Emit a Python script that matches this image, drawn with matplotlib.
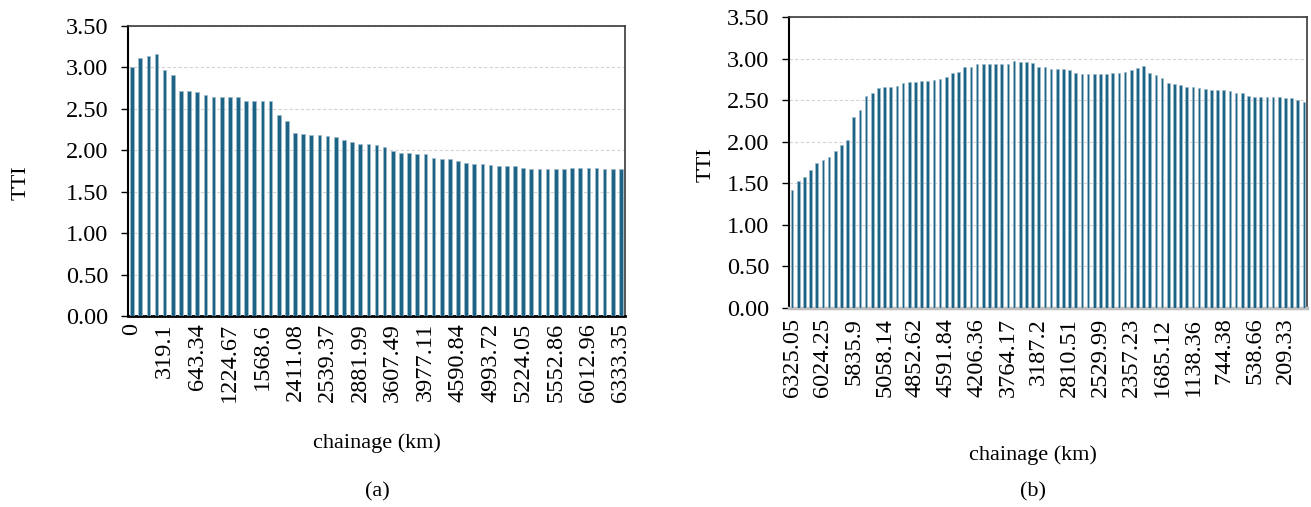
import matplotlib
matplotlib.use("Agg")
import matplotlib.pyplot as plt
import numpy as np

plt.rcParams['font.family'] = ['Liberation Serif', 'DejaVu Serif']

# Panel (a): TTI along chainage, forward direction
tti_a = [3.00, 3.11, 3.14, 3.16, 2.97, 2.91, 2.71, 2.71, 2.70, 2.67,
         2.64, 2.64, 2.64, 2.64, 2.60, 2.60, 2.59, 2.60, 2.43, 2.35,
         2.21, 2.20, 2.18, 2.18, 2.17, 2.16, 2.13, 2.10, 2.08, 2.07,
         2.06, 2.04, 1.99, 1.97, 1.97, 1.96, 1.95, 1.91, 1.90, 1.89,
         1.87, 1.85, 1.84, 1.83, 1.82, 1.81, 1.81, 1.81, 1.79, 1.78,
         1.78, 1.78, 1.78, 1.78, 1.79, 1.79, 1.79, 1.79, 1.78, 1.78,
         1.77]
ticks_a = ["0", "319.1", "643.34", "1224.67", "1568.6", "2411.08", "2539.37",
           "2881.99", "3607.49", "3977.11", "4590.84", "4993.72", "5224.05",
           "5552.86", "6012.96", "6333.35"]
step_a = 4

# Panel (b): TTI along chainage, reverse direction
tti_b = [1.42, 1.53, 1.57, 1.66, 1.74, 1.78, 1.82, 1.89, 1.96, 2.02,
         2.30, 2.38, 2.55, 2.58, 2.65, 2.66, 2.66, 2.67, 2.71, 2.72,
         2.72, 2.73, 2.73, 2.74, 2.75, 2.78, 2.83, 2.84, 2.90, 2.90,
         2.94, 2.94, 2.94, 2.94, 2.94, 2.94, 2.97, 2.96, 2.96, 2.95,
         2.90, 2.90, 2.88, 2.88, 2.87, 2.86, 2.83, 2.82, 2.82, 2.82,
         2.82, 2.82, 2.83, 2.83, 2.84, 2.86, 2.89, 2.91, 2.83, 2.80,
         2.77, 2.71, 2.69, 2.68, 2.66, 2.66, 2.65, 2.63, 2.62, 2.62,
         2.62, 2.61, 2.59, 2.59, 2.55, 2.54, 2.54, 2.54, 2.54, 2.54,
         2.53, 2.52, 2.50, 2.48]
ticks_b = ["6325.05", "6024.25", "5835.9", "5058.14", "4852.62", "4591.84",
           "4206.36", "3764.17", "3187.2", "2810.51", "2529.99", "2357.23",
           "1685.12", "1138.36", "744.38", "538.66", "209.33"]
step_b = 5

yticks = [0, 0.5, 1.0, 1.5, 2.0, 2.5, 3.0, 3.5]
BAR = "#1d6385"
FS = 17.5       # tick labels
FS_TITLE = 16   # axis titles and panel captions

W, H = 1311, 507
fig = plt.figure(figsize=(W / 100, H / 100), dpi=100)


def px_axes(left, top, right, bottom):
    return fig.add_axes([left / W, 1 - bottom / H, (right - left) / W, (bottom - top) / H])


def draw(ax, vals, labels, step, bottom_color, bottom_lw, pad):
    x = np.arange(len(vals))
    ax.bar(x, vals, width=0.45, color=BAR, edgecolor="#9fbccc", linewidth=0.5, zorder=3)
    ax.set_xlim(-0.5, len(vals) - 0.5)
    ax.set_ylim(0, 3.5)
    ax.set_yticks(yticks)
    ax.set_yticklabels([f"{v:.2f}" for v in yticks], fontsize=FS)
    ax.set_xticks(x[::step])
    ax.set_xticklabels(labels, rotation=90, fontsize=FS)
    ax.tick_params(axis='x', length=0, pad=pad)
    ax.tick_params(axis='y', direction='out', length=5, width=1, pad=9)
    ax.grid(axis='y', color='#d4d4d4', linestyle=(0, (3, 2)), linewidth=0.8, zorder=0)
    ax.set_axisbelow(True)
    ax.spines['left'].set_linewidth(1.5)
    ax.spines['left'].set_color('black')
    for s in ('top', 'right'):
        ax.spines[s].set_linewidth(1.2)
        ax.spines[s].set_color('#3a3a3a')
    ax.spines['bottom'].set_color(bottom_color)
    ax.spines['bottom'].set_linewidth(bottom_lw)


ax_a = px_axes(128, 26, 625, 316)
draw(ax_a, tti_a, ticks_a, step_a, 'black', 2.0, 5)

ax_b = px_axes(789, 17, 1307, 308)
draw(ax_b, tti_b, ticks_b, step_b, '#bfbfbf', 2.5, 7)


def ftext(x, y, s, **kw):
    fig.text(x / W, 1 - y / H, s, ha='center', va='center', fontsize=FS_TITLE, **kw)


ftext(21, 183, "TTI", rotation=90)
ftext(706, 165, "TTI", rotation=90)
ftext(377, 443, "chainage (km)")
ftext(377, 492, "(a)")
ftext(1033, 455, "chainage (km)")
ftext(1033, 492, "(b)")

fig.savefig("out.png", dpi=100)
